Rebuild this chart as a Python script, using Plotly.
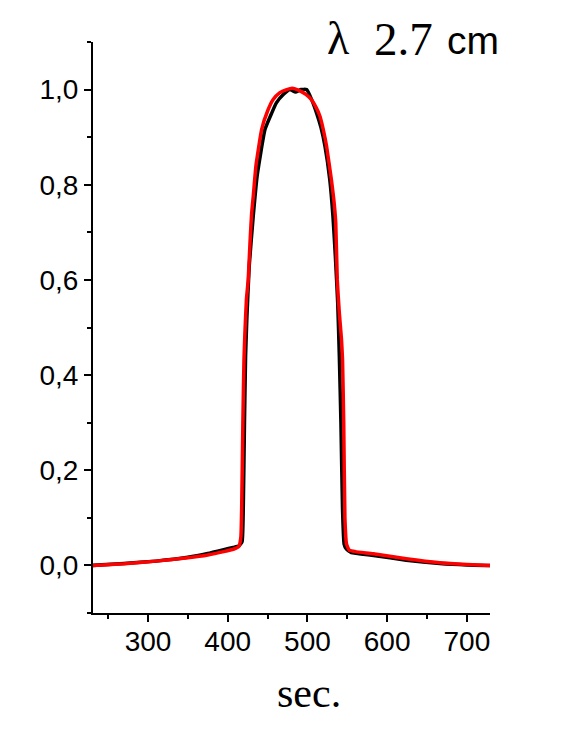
import plotly.graph_objects as go

# Red curve
red_x = [230, 270, 310, 350, 375, 395, 407, 414, 416.5, 417.5, 419, 420.4, 421.6, 423.5, 425.7,
         428, 430, 432, 435.4, 442.5, 450, 457, 465, 474, 481, 490, 498, 505, 511, 515.7, 520,
         524, 530, 533, 535.5, 537.4, 540, 542.7, 544, 545.5, 547, 549, 552.4, 560, 582.5, 624,
         666, 700, 730]
red_y = [0.0, 0.0035, 0.009, 0.016, 0.022, 0.029, 0.034, 0.040, 0.06, 0.12, 0.30, 0.433, 0.49, 0.56, 0.60,
         0.68, 0.74, 0.775, 0.84, 0.916, 0.955, 0.979, 0.993, 1.0, 1.003, 0.998, 0.99, 0.979, 0.962, 0.944, 0.915,
         0.881, 0.811, 0.77, 0.72, 0.60, 0.53, 0.475, 0.433, 0.30, 0.10, 0.045, 0.032, 0.029, 0.0245, 0.014,
         0.0056, 0.002, 0.0]

# Black curve
black_x = [230, 270, 310, 350, 375, 395, 407, 414, 418, 419.5, 421, 422.4, 424, 427, 432, 437,
           446.7, 455, 461, 470, 478, 485, 492, 499, 505, 511.4, 517, 522, 528, 532, 535,
           538, 540, 542, 544, 546, 549, 555, 583, 624, 666, 700, 730]
black_y = [0.0, 0.004, 0.009, 0.017, 0.025, 0.033, 0.038, 0.041, 0.05, 0.12, 0.30, 0.44, 0.52, 0.63, 0.734, 0.82,
           0.916, 0.95, 0.972, 0.99, 1.0, 0.995, 1.0, 1.0, 0.98, 0.951, 0.92, 0.881, 0.811, 0.734, 0.65,
           0.55, 0.44, 0.30, 0.12, 0.045, 0.034, 0.027, 0.021, 0.011, 0.004, 0.001, 0.0]

y_ticks = [0.0, 0.2, 0.4, 0.6, 0.8, 1.0]
y_tick_labels = ["0,0", "0,2", "0,4", "0,6", "0,8", "1,0"]
x_ticks = [300, 400, 500, 600, 700]
x_tick_labels = ["300", "400", "500", "600", "700"]

fig = go.Figure()
fig.add_trace(go.Scatter(x=black_x, y=black_y, mode="lines",
                         line=dict(color="black", width=3.5, shape="spline", smoothing=0.4),
                         showlegend=False))
fig.add_trace(go.Scatter(x=red_x, y=red_y, mode="lines",
                         line=dict(color="#ff0000", width=3.5, shape="spline", smoothing=0.4),
                         showlegend=False))

# page body has an 8px margin; figure coordinates are shifted accordingly
L, R, T, B = 85, 82, 34, 127
W, H = 564, 732
pw, ph = W - L - R, H - T - B

def px(xs):
    return (xs - 8 - L) / pw

def py(ys):
    return (H - B - (ys - 8)) / ph

fig.update_layout(
    width=W, height=H,
    margin=dict(l=L, r=R, t=T, b=B, pad=0),
    paper_bgcolor="white", plot_bgcolor="white",
    font=dict(family="Liberation Sans, Arial, sans-serif", size=28, color="black"),
    xaxis=dict(range=[231, 729], showgrid=False, zeroline=False, showline=True,
               linecolor="black", linewidth=2, ticks="outside", ticklen=7, tickwidth=2,
               tickcolor="black", tickvals=x_ticks, ticktext=x_tick_labels,
               ticklabelstandoff=-5,
               minor=dict(dtick=50, tick0=250, ticks="outside", ticklen=4, tickwidth=2, tickcolor="black"),
               tickfont=dict(size=28)),
    yaxis=dict(range=[-0.1, 1.1], showgrid=False, zeroline=False, showline=True,
               linecolor="black", linewidth=2, ticks="outside", ticklen=7, tickwidth=2,
               tickcolor="black", tickvals=y_ticks, ticktext=y_tick_labels,
               minor=dict(dtick=0.1, tick0=-0.1, ticks="outside", ticklen=4, tickwidth=2, tickcolor="black"),
               tickfont=dict(size=28)),
    annotations=[
        dict(xref="paper", yref="paper", x=px(325), y=py(66), xanchor="left", yanchor="bottom",
             showarrow=False, text="λ",
             font=dict(family="Liberation Serif, Times New Roman, serif", size=46)),
        dict(xref="paper", yref="paper", x=px(435), y=py(67), xanchor="right", yanchor="bottom",
             showarrow=False, text="2.7",
             font=dict(family="Liberation Serif, Times New Roman, serif", size=47)),
        dict(xref="paper", yref="paper", x=px(501), y=py(64), xanchor="right", yanchor="bottom",
             showarrow=False, text="cm",
             font=dict(family="Liberation Sans, Arial, sans-serif", size=39)),
        dict(xref="paper", yref="paper", x=px(309), y=py(718), xanchor="center", yanchor="bottom",
             showarrow=False, text="sec.",
             font=dict(family="Liberation Serif, Times New Roman, serif", size=42)),
    ],
)

fig.write_html("out.html")
